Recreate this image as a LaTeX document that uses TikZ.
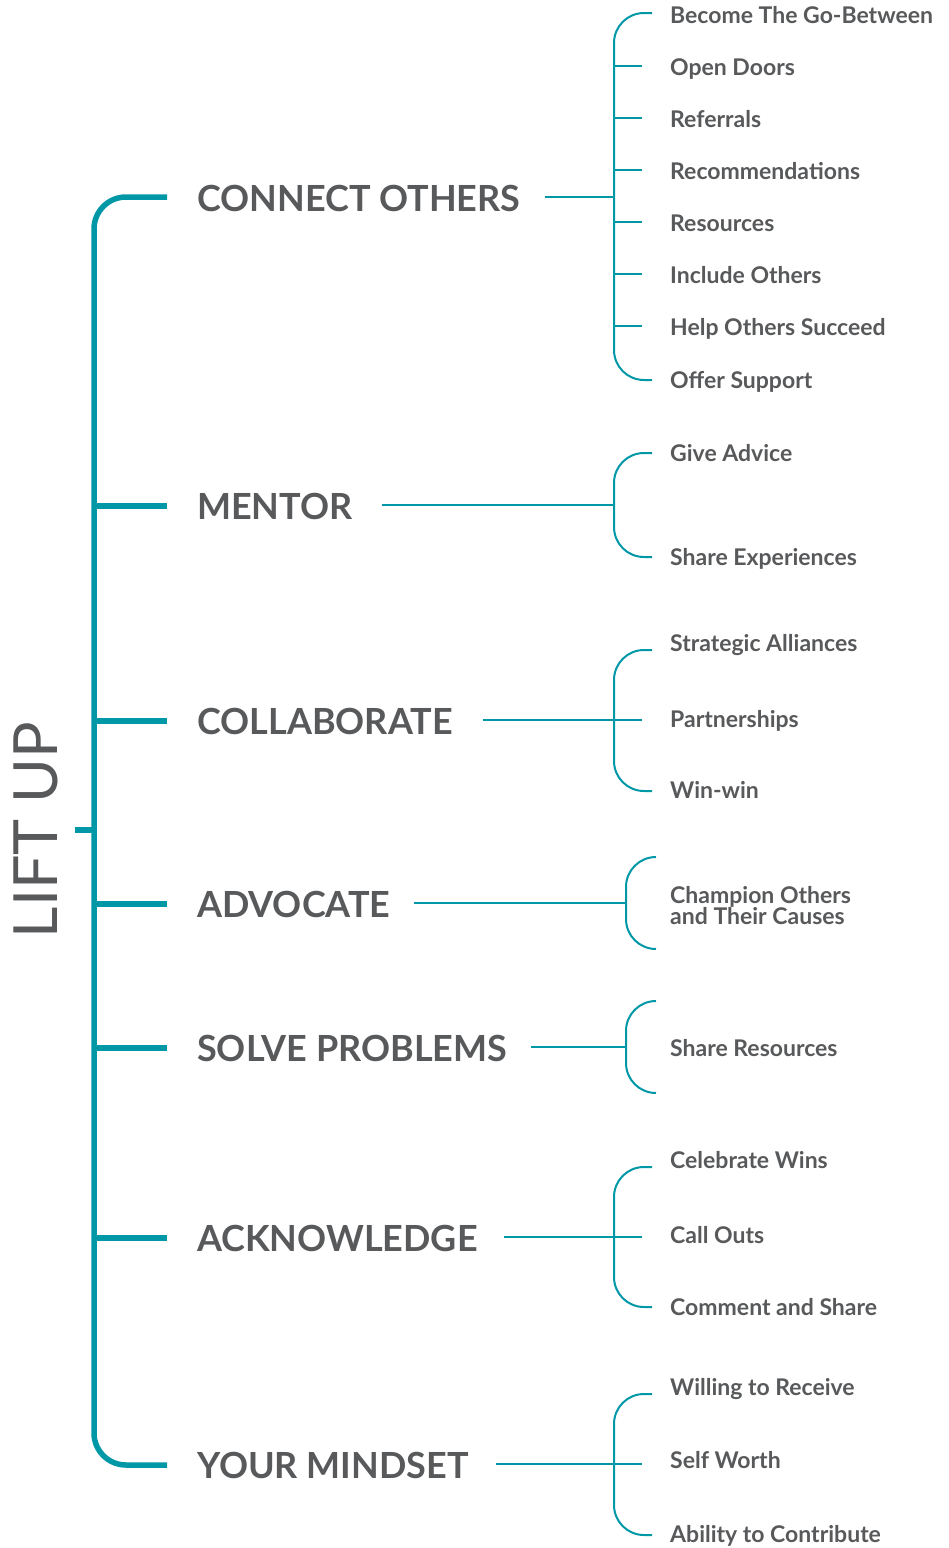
\documentclass[tikz,border=0pt]{standalone}
\usepackage{fontspec}
\setmainfont{Lato}
\definecolor{liftteal}{HTML}{0097A7}
\definecolor{liftgray}{HTML}{58595B}

\begin{document}
\begin{tikzpicture}[
        x=1pt, y=-1pt,
        trunk/.style={draw=liftteal, line width=5.5pt},
        twig/.style={draw=liftteal, line width=2pt},
        category/.style={anchor=base west, inner sep=0pt, text=liftgray, font=\bfseries\fontsize{36}{36}\selectfont},
        item/.style={anchor=base west, inner sep=0pt, text=liftgray, font=\bfseries\fontsize{23}{23}\selectfont}
    ]
    \useasboundingbox (0,0) rectangle (949,1548);

    % Title
    \node[rotate=90, anchor=base, inner sep=0pt, text=liftgray, font=\fontsize{61}{61}\selectfont] (liftup) at (57,830) {LIFT UP};

    % Categories
    \node[category] (connect) at (197,211) {CONNECT OTHERS};
    \node[category] (mentor) at (197,519) {MENTOR};
    \node[category] (collab) at (197,734) {COLLABORATE};
    \node[category] (advocate) at (197,917) {ADVOCATE};
    \node[category] (solve) at (197,1061) {SOLVE PROBLEMS};
    \node[category] (acknow) at (197,1251) {ACKNOWLEDGE};
    \node[category] (mindset) at (197,1478) {YOUR MINDSET};

    % Items
    \node[item] (gobetween) at (670,23) {Become The Go-Between};
    \node[item] (opendoors) at (670,75) {Open Doors};
    \node[item] (referrals) at (670,127) {Referrals};
    \node[item] (recommend) at (670,179) {Recommendations};
    \node[item] (resources) at (670,231) {Resources};
    \node[item] (include) at (670,283) {Include Others};
    \node[item] (helpothers) at (670,335) {Help Others Succeed};
    \node[item] (offersupport) at (670,388) {Offer Support};

    \node[item] (giveadvice) at (670,461) {Give Advice};
    \node[item] (shareexp) at (670,565) {Share Experiences};

    \node[item] (strategic) at (670,651) {Strategic Alliances};
    \node[item] (partners) at (670,727) {Partnerships};
    \node[item] (winwin) at (670,798) {Win-win};

    \node[item, anchor=west, align=left, font=\bfseries\fontsize{23}{21}\selectfont] (champion) at (670,906) {Champion Others\\and Their Causes};

    \node[item] (shareres) at (670,1056) {Share Resources};

    \node[item] (celebrate) at (670,1168) {Celebrate Wins};
    \node[item] (callouts) at (670,1243) {Call Outs};
    \node[item] (comment) at (670,1315) {Comment and Share};

    \node[item] (willing) at (670,1395) {Willing to Receive};
    \node[item] (selfworth) at (670,1468) {Self Worth};
    \node[item] (ability) at (670,1542) {Ability to Contribute};

    % Trunk
    \coordinate (trunkTop) at (167,197);
    \coordinate (trunkMid) at (94,830);
    \coordinate (trunkBot) at (167,1465);
    \draw[trunk, rounded corners=32pt] (trunkTop) -| (trunkMid |- trunkBot) -- (trunkBot);
    \draw[trunk, shorten <=17pt] (trunkMid -| liftup.south) -- (trunkMid);
    \draw[trunk, shorten >=30pt] (trunkMid |- mentor.west) -- (mentor.west);
    \draw[trunk, shorten >=30pt] (trunkMid |- collab.west) -- (collab.west);
    \draw[trunk, shorten >=30pt] (trunkMid |- advocate.west) -- (advocate.west);
    \draw[trunk, shorten >=30pt] (trunkMid |- solve.west) -- (solve.west);
    \draw[trunk, shorten >=30pt] (trunkMid |- acknow.west) -- (acknow.west);

    % Connect others
    \coordinate (conB) at (614,197);
    \coordinate (conT) at (652,13);
    \coordinate (conE) at (652,380);
    \draw[twig, shorten <=24pt] (conB -| connect.east) -- (conB);
    \draw[twig, rounded corners=30pt] (conT) -| (conB |- conE) -- (conE);
    \draw[twig] ([yshift=9pt]opendoors.base -| conB) -- ++(28,0);
    \draw[twig] ([yshift=9pt]referrals.base -| conB) -- ++(28,0);
    \draw[twig] ([yshift=9pt]recommend.base -| conB) -- ++(28,0);
    \draw[twig] ([yshift=9pt]resources.base -| conB) -- ++(28,0);
    \draw[twig] ([yshift=9pt]include.base -| conB) -- ++(28,0);
    \draw[twig] ([yshift=9pt]helpothers.base -| conB) -- ++(28,0);

    % Mentor
    \coordinate (menB) at (614,505);
    \coordinate (menT) at (652,453);
    \coordinate (menE) at (652,557);
    \draw[twig, shorten <=29pt] (menB -| mentor.east) -- (menB);
    \draw[twig, rounded corners=30pt] (menT) -| (menB |- menE) -- (menE);

    % Collaborate
    \coordinate (colB) at (614,720);
    \coordinate (colT) at (652,650);
    \coordinate (colE) at (652,791);
    \draw[twig, shorten <=30pt] (colB -| collab.east) -- ([xshift=28pt]colB);
    \draw[twig, rounded corners=30pt] (colT) -| (colB |- colE) -- (colE);

    % Advocate
    \coordinate (advB) at (626,903);
    \coordinate (advT) at (656,857);
    \coordinate (advE) at (656,949);
    \draw[twig, shorten <=23pt] (advB -| advocate.east) -- (advB);
    \draw[twig, rounded corners=30pt] (advT) -| (advB |- advE) -- (advE);

    % Solve problems
    \coordinate (solB) at (626,1047);
    \coordinate (solT) at (656,1001);
    \coordinate (solE) at (656,1093);
    \draw[twig, shorten <=24pt] (solB -| solve.east) -- (solB);
    \draw[twig, rounded corners=30pt] (solT) -| (solB |- solE) -- (solE);

    % Acknowledge
    \coordinate (ackB) at (614,1237);
    \coordinate (ackT) at (652,1167);
    \coordinate (ackE) at (652,1307);
    \draw[twig, shorten <=26pt] (ackB -| acknow.east) -- ([xshift=28pt]ackB);
    \draw[twig, rounded corners=30pt] (ackT) -| (ackB |- ackE) -- (ackE);

    % Your mindset
    \coordinate (minB) at (614,1464);
    \coordinate (minT) at (652,1394);
    \coordinate (minE) at (652,1535);
    \draw[twig, shorten <=27pt] (minB -| mindset.east) -- ([xshift=28pt]minB);
    \draw[twig, rounded corners=30pt] (minT) -| (minB |- minE) -- (minE);

\end{tikzpicture}
\end{document}
